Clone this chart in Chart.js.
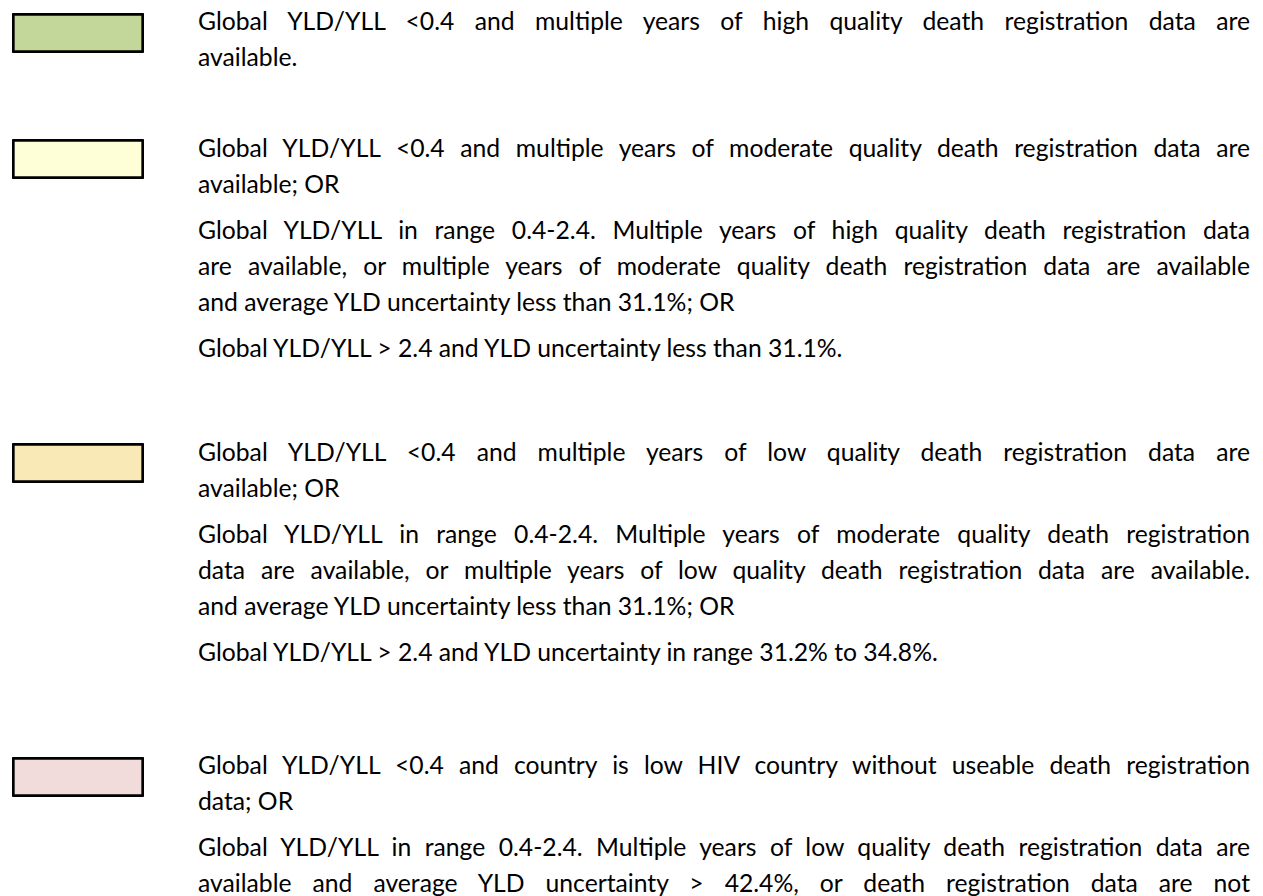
<!DOCTYPE html>
<html><head><meta charset="utf-8">
<script src="https://cdn.jsdelivr.net/npm/chart.js@4.4.1/dist/chart.umd.min.js"></script>
<style>
html,body{margin:0;padding:0;background:#fff;width:1263px;height:896px;overflow:hidden;}
body{position:relative;font-family:Lato,"Open Sans",sans-serif;color:#000;}
.sw{position:absolute;left:12px;width:132px;height:40px;}
.grp{position:absolute;left:198px;width:1052px;}
.ln{height:36px;line-height:36px;white-space:nowrap;}
.ln.j{white-space:normal;text-align:justify;text-align-last:justify;}
.p + .p{margin-top:10px;}
</style></head>
<body>
<script>
// ---- data ----
const categories = ['High', 'Moderate', 'Low', 'Very low'];
const swatchColors = ['#C4D79B', '#FFFFD7', '#F8E9B7', '#F2DCDB'];
const swatchValues = [1, 1, 1, 1];
// each category: paragraphs; each paragraph: lines; a line ending with '|' is justified
const criteriaText = [
  [
    ['Global YLD/YLL <0.4 and multiple years of high quality death registration data are|', 'available.']
  ],
  [
    ['Global YLD/YLL <0.4 and multiple years of moderate quality death registration data are|', 'available; OR'],
    ['Global YLD/YLL in range 0.4-2.4. Multiple years of high quality death registration data|', 'are available, or multiple years of moderate quality death registration data are available|', 'and average YLD uncertainty less than 31.1%; OR'],
    ['Global YLD/YLL > 2.4 and YLD uncertainty less than 31.1%.']
  ],
  [
    ['Global YLD/YLL <0.4 and multiple years of low quality death registration data are|', 'available; OR'],
    ['Global YLD/YLL in range 0.4-2.4. Multiple years of moderate quality death registration|', 'data are available, or multiple years of low quality death registration data are available.|', 'and average YLD uncertainty less than 31.1%; OR'],
    ['Global YLD/YLL > 2.4 and YLD uncertainty in range 31.2% to 34.8%.']
  ],
  [
    ['Global YLD/YLL <0.4 and country is low HIV country without useable death registration|', 'data; OR'],
    ['Global YLD/YLL in range 0.4-2.4. Multiple years of low quality death registration data are|', 'available and average YLD uncertainty > 42.4%, or death registration data are not|']
  ]
];
// ---- layout ----
const groupBaselines = [30, 157, 461, 774];
const swatchTops = [13, 139, 443, 757];
const TEXT_W = 1052;
const LINE_H = 36;
const FONT = 'Lato';

const ctx = document.createElement('canvas').getContext('2d');
ctx.font = '100px ' + FONT;
const ref = ctx.measureText('Global YLD/YLL > 2.4 and YLD uncertainty less than 31.1%.').width;
const fontSize = 100 * 648 / ref;
document.body.style.fontSize = fontSize + 'px';
ctx.font = fontSize + 'px ' + FONT;
const m = ctx.measureText('Gg');
const asc = m.fontBoundingBoxAscent, desc = m.fontBoundingBoxDescent;
const baseOff = (LINE_H - (asc + desc)) / 2 + asc;

criteriaText.forEach((paras, gi) => {
  const g = document.createElement('div');
  g.className = 'grp';
  g.style.top = (groupBaselines[gi] - baseOff) + 'px';
  paras.forEach(lines => {
    const p = document.createElement('div');
    p.className = 'p';
    lines.forEach(l => {
      const d = document.createElement('div');
      const just = l.endsWith('|');
      const t = just ? l.slice(0, -1) : l;
      d.textContent = t;
      const w = ctx.measureText(t).width;
      if (w > TEXT_W - 1) {
        d.className = 'ln';
        d.style.width = w + 'px';
        d.style.transformOrigin = 'left center';
        d.style.transform = 'scaleX(' + (TEXT_W / w) + ')';
      } else {
        d.className = just ? 'ln j' : 'ln';
      }
      p.appendChild(d);
    });
    g.appendChild(p);
  });
  document.body.appendChild(g);

  const c = document.createElement('canvas');
  c.className = 'sw';
  c.width = 132; c.height = 40;
  c.style.top = swatchTops[gi] + 'px';
  document.body.appendChild(c);
  new Chart(c, {
    type: 'bar',
    data: {
      labels: [categories[gi]],
      datasets: [{
        data: [swatchValues[gi]],
        backgroundColor: swatchColors[gi],
        borderColor: '#000',
        borderWidth: 3,
        borderSkipped: false,
        borderRadius: 2,
        barPercentage: 1,
        categoryPercentage: 1
      }]
    },
    options: {
      indexAxis: 'y',
      responsive: false,
      animation: false,
      events: [],
      layout: { padding: 0 },
      plugins: { legend: { display: false }, tooltip: { enabled: false } },
      scales: { x: { display: false, min: 0, max: 1 }, y: { display: false } }
    }
  });
});
</script>
</body></html>
